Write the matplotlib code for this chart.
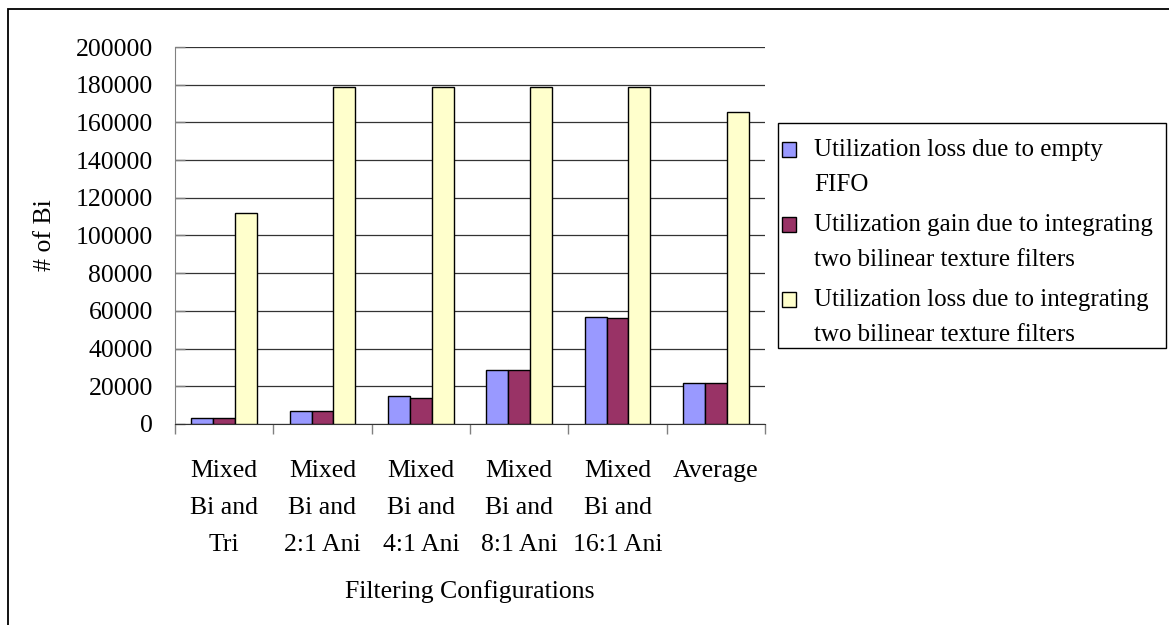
import matplotlib
matplotlib.use("Agg")
import matplotlib.pyplot as plt
import numpy as np
from matplotlib.patches import Rectangle
from matplotlib.legend_handler import HandlerPatch

categories = ["Mixed\nBi and\nTri", "Mixed\nBi and\n2:1 Ani", "Mixed\nBi and\n4:1 Ani",
              "Mixed\nBi and\n8:1 Ani", "Mixed\nBi and\n16:1 Ani", "Average"]
series_names = ["Utilization loss due to empty\nFIFO",
                "Utilization gain due to integrating\ntwo bilinear texture filters",
                "Utilization loss due to integrating\ntwo bilinear texture filters"]
loss_empty_fifo = [3400, 6800, 14600, 28600, 56800, 22000]
gain_integrating = [3400, 6800, 13700, 28500, 56100, 22000]
loss_integrating = [112000, 179000, 179000, 179000, 179000, 165700]
colors = ["#9999FF", "#993366", "#FFFFCC"]
y_ticks = list(range(0, 200001, 20000))

W, H = 1169, 625
plt.rcParams["font.family"] = ["Liberation Serif", "DejaVu Serif"]
FS = 18.5
LEG_FS = 18
LEG_LS = 1.74

fig = plt.figure(figsize=(W / 100, H / 100), dpi=100)
ax = fig.add_axes([175 / W, 1 - 424 / H, 590 / W, 377 / H])

x = np.arange(len(categories))
bw = 1 / 4.5
for i, vals in enumerate([loss_empty_fifo, gain_integrating, loss_integrating]):
    ax.bar(x + (i - 1) * bw, vals, width=bw, color=colors[i], edgecolor="black",
           linewidth=1.0, zorder=3)

ax.set_xlim(-0.5, len(categories) - 0.5)
ax.set_ylim(0, 200000)
ax.set_yticks(y_ticks)
ax.set_yticklabels([str(v) for v in y_ticks], fontsize=FS)
ax.yaxis.grid(True, color="#333333", linewidth=0.9, zorder=0)
ax.set_axisbelow(True)

# category boundaries carry the tick marks, category centres carry the labels
ax.set_xticks(np.arange(-0.5, len(categories), 1.0))
ax.set_xticklabels([])
ax.set_xticks(x, minor=True)
ax.set_xticklabels(categories, minor=True, fontsize=FS, linespacing=1.88)
ax.tick_params(axis="x", which="major", direction="out", length=7, color="#808080", width=1)
ax.tick_params(axis="x", which="minor", length=0, pad=26)
ax.tick_params(axis="y", direction="in", length=7, color="#808080", width=1, pad=16)

for s in ["top", "right"]:
    ax.spines[s].set_visible(False)
ax.spines["left"].set_color("#808080")
ax.spines["bottom"].set_color("#333333")

ax.set_ylabel("# of Bi", fontsize=FS, va="center")
ax.yaxis.set_label_coords((45 - 175) / 590, 0.5)
ax.set_xlabel("Filtering Configurations", fontsize=FS, va="center")
ax.xaxis.set_label_coords(0.5, (424 - 592) / 377)


class TopHandler(HandlerPatch):
    """Square legend key aligned with the first line of a two-line label."""

    def create_artists(self, legend, orig_handle, xdescent, ydescent, width, height,
                       fontsize, trans):
        shift = 0.5 * 35 * 0.72  # half a label line, in points
        p = Rectangle((-xdescent, -ydescent + shift), width, height)
        self.update_prop(p, orig_handle, legend)
        p.set_facecolor(orig_handle.get_facecolor())
        p.set_edgecolor("black")
        p.set_linewidth(1.0)
        p.set_transform(trans)
        return [p]


handles = [Rectangle((0, 0), 1, 1, facecolor=c, edgecolor="black") for c in colors]
leg = fig.legend(handles, series_names, loc="upper left",
                 bbox_to_anchor=(782 / W, 1 - 139 / H), frameon=False,
                 fontsize=LEG_FS, handlelength=0.55, handleheight=0.55,
                 handletextpad=0.75, labelspacing=0.74, borderpad=0, borderaxespad=0,
                 handler_map={Rectangle: TopHandler()})
for t in leg.get_texts():
    t.set_linespacing(LEG_LS)

fig.patches.append(Rectangle((778 / W, 1 - 348 / H), (1166 - 778) / W, (348 - 123) / H,
                             transform=fig.transFigure, fill=False, edgecolor="black",
                             linewidth=1.0))
fig.patches.append(Rectangle((8 / W, -0.1), 1.2, 0.1 + (1 - 9 / H),
                             transform=fig.transFigure, fill=False, edgecolor="black",
                             linewidth=1.3))

fig.savefig("out.png", dpi=100)
